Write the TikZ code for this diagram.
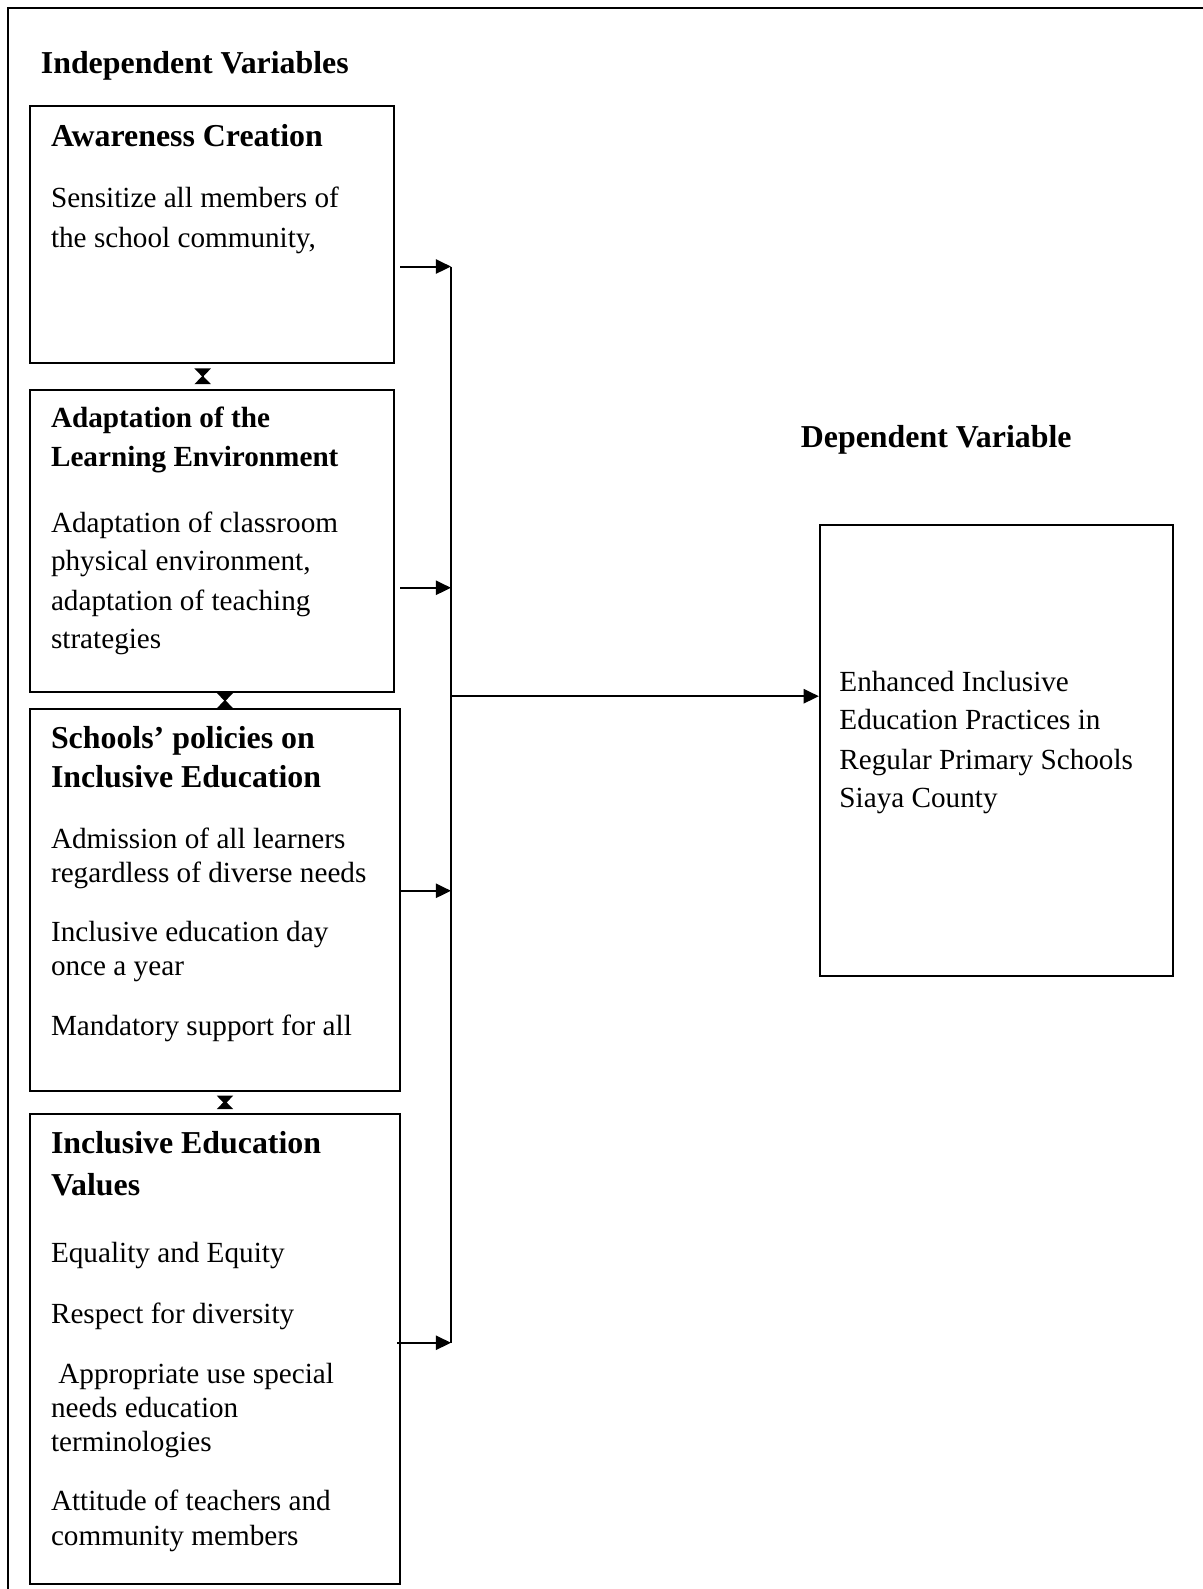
\documentclass[tikz,border=0pt]{standalone}
\usepackage{fontspec}
\setmainfont{Liberation Serif}
\usetikzlibrary{arrows.meta}

\tikzset{
	varbox/.style={draw,line width=1pt,inner sep=0pt,anchor=north west},
	headtext/.style={font=\bfseries\fontsize{17.9}{21}\selectfont,anchor=base west,inner sep=0pt},
	bodytext/.style={font=\fontsize{16.4}{20}\selectfont,anchor=base west,inner sep=0pt},
	linkarrow/.style={line width=1.1pt,-{Triangle[length=8.5pt,width=8pt]}},
	tiearrow/.style={line width=1pt,{Triangle[reversed,length=4.8pt,width=9pt]}-{Triangle[reversed,length=4.8pt,width=9pt]}}
}

\begin{document}
\begin{tikzpicture}[x=0.02cm,y=-0.02cm]
			\useasboundingbox (0,0) rectangle (1187,1568);
			% frame
			\coordinate (f_top) at (1187,8);
			\coordinate (f_corner) at (8,8);
			\coordinate (f_bottom) at (8,1568);
			\draw[line width=1.2pt] (f_top) -- (f_corner) -- (f_bottom);
			% boxes
			\node[varbox,minimum width=7.18cm,minimum height=5.06cm] (aware) at (29,104) {};
			\node[varbox,minimum width=7.18cm,minimum height=5.96cm] (adapt) at (29,384) {};
			\node[varbox,minimum width=7.30cm,minimum height=7.54cm] (policy) at (29,699) {};
			\node[varbox,minimum width=7.30cm,minimum height=9.28cm] (values) at (29,1098) {};
			\node[varbox,minimum width=6.98cm,minimum height=8.90cm] (outcome) at (808,517) {};
			% texts
			\node[headtext] (indep) at (40,73) {Independent Variables};
			\node[headtext] (dep) at (790,442) {Dependent Variable};
			\node[headtext] (aware_h) at (50,145) {Awareness Creation};
			\node[bodytext] (aware_1) at (50,205) {Sensitize all members of};
			\node[bodytext] (aware_2) at (50,244) {the school community,};
			\node[bodytext,font=\bfseries\fontsize{16.4}{20}\selectfont] (adapt_h1) at (50,422) {Adaptation of the};
			\node[bodytext,font=\bfseries\fontsize{16.4}{20}\selectfont] (adapt_h2) at (50,460) {Learning Environment};
			\node[bodytext] (adapt_1) at (50,525) {Adaptation of classroom};
			\node[bodytext] (adapt_2) at (50,563) {physical environment,};
			\node[bodytext] (adapt_3) at (50,602) {adaptation of teaching};
			\node[bodytext] (adapt_4) at (50,640) {strategies};
			\node[headtext] (policy_h1) at (50,739) {Schools’ policies on};
			\node[headtext] (policy_h2) at (50,777) {Inclusive Education};
			\node[bodytext] (policy_1) at (50,837) {Admission of all learners};
			\node[bodytext] (policy_2) at (50,871) {regardless of diverse needs};
			\node[bodytext] (policy_3) at (50,929) {Inclusive education day};
			\node[bodytext] (policy_4) at (50,963) {once a year};
			\node[bodytext] (policy_5) at (50,1022) {Mandatory support for all};
			\node[headtext] (values_h1) at (50,1138) {Inclusive Education};
			\node[headtext] (values_h2) at (50,1180) {Values};
			\node[bodytext] (values_1) at (50,1246) {Equality and Equity};
			\node[bodytext] (values_2) at (50,1306) {Respect for diversity};
			\node[bodytext] (values_3) at (50,1365) {\ Appropriate use special};
			\node[bodytext] (values_4) at (50,1399) {needs education};
			\node[bodytext] (values_5) at (50,1432) {terminologies};
			\node[bodytext] (values_6) at (50,1491) {Attitude of teachers and};
			\node[bodytext] (values_7) at (50,1525) {community members};
			\node[bodytext] (out_1) at (828,682) {Enhanced Inclusive};
			\node[bodytext] (out_2) at (828,720) {Education Practices in};
			\node[bodytext] (out_3) at (828,759) {Regular Primary Schools};
			\node[bodytext] (out_4) at (828,797) {Siaya County};
			% joints on the collecting line
			\coordinate (j_aware) at (445,263);
			\coordinate (j_adapt) at (445,580);
			\coordinate (j_out) at (445,687);
			\coordinate (j_policy) at (445,879);
			\coordinate (j_values) at (445,1325);
			\draw[line width=1.1pt] (j_aware) -- (j_values);
			\draw[linkarrow] ([xshift=3pt]aware.east |- j_aware) -- (j_aware);
			\draw[linkarrow] ([xshift=3pt]adapt.east |- j_adapt) -- (j_adapt);
			\draw[linkarrow] (policy.east |- j_policy) -- (j_policy);
			\draw[linkarrow] ([xshift=-2pt]values.east |- j_values) -- (j_values);
			\draw[linkarrow] (j_out) -- (outcome.west |- j_out);
			% ties between boxes
			\draw[tiearrow,shorten <=2.8pt,shorten >=2.8pt] (aware.south -| 200,0) -- (adapt.north -| 200,0);
			\draw[tiearrow] (adapt.south -| 222,0) -- (policy.north -| 222,0);
			\draw[tiearrow,shorten <=2pt,shorten >=2pt] (policy.south -| 222,0) -- (values.north -| 222,0);
		\end{tikzpicture}
\end{document}
